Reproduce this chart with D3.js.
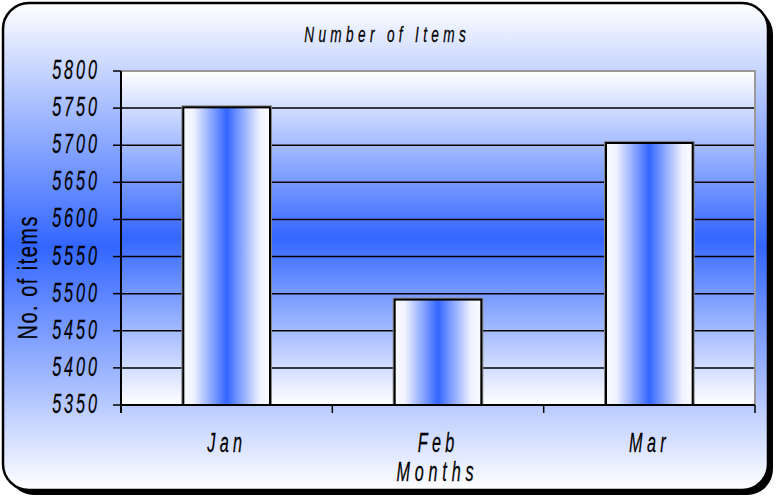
<!DOCTYPE html>
<html>
<head>
<meta charset="utf-8">
<script src="https://cdn.jsdelivr.net/npm/d3@7"></script>
<style>
  html, body { margin: 0; padding: 0; background: #ffffff; }
  svg { display: block; }
  text { font-family: 'Liberation Sans', Arial, sans-serif; fill: #000; stroke: #000; stroke-width: 0.25; }
</style>
</head>
<body>
<svg id="chart" width="777" height="500"></svg>
<script>
// Monthly item counts
const months = ["Jan", "Feb", "Mar"];
const items = [5751, 5492, 5703];
const yTicks = [5350, 5400, 5450, 5500, 5550, 5600, 5650, 5700, 5750, 5800];
const titleText = "Number of Items";
const xTitle = "Months";
const yTitle = "No. of items";

const svg = d3.select("#chart");
const plot = { left: 121, right: 755, top: 71, bottom: 405 };

const defs = svg.append("defs");

// vertical white-blue-white wash used for the panel and the plot area
function vWash(id) {
  const g = defs.append("linearGradient").attr("id", id)
    .attr("x1", 0).attr("y1", 0).attr("x2", 0).attr("y2", 1);
  g.append("stop").attr("offset", "0").attr("stop-color", "#ffffff");
  g.append("stop").attr("offset", "0.5").attr("stop-color", "#3366ff");
  g.append("stop").attr("offset", "1").attr("stop-color", "#ffffff");
}
vWash("panelWash");
vWash("plotWash");

// horizontal white-blue-white shading for each bar
const barGrad = defs.append("linearGradient").attr("id", "barWash")
  .attr("x1", 0).attr("y1", 0).attr("x2", 1).attr("y2", 0);
[[0, "#fbfbff"], [0.12, "#f0f2ff"], [0.5, "#3366ff"], [0.88, "#f0f2ff"], [1, "#fbfbff"]]
  .forEach(([o, c]) => barGrad.append("stop").attr("offset", o).attr("stop-color", c));

// condensed lettering: glyphs squeezed horizontally, letter-spaced
// (sx = horizontal squeeze, ls = letter spacing in unsqueezed units)
function label(parent, str, x, y, o) {
  const sx = o.sx, ls = o.ls || 0;
  // trailing letter spacing shifts anchored text; compensate for it
  const shift = o.anchor === "end" ? ls * sx : o.anchor === "middle" ? ls * sx / 2 : 0;
  const rot = o.rotate ? ` rotate(${o.rotate})` : "";
  const t = parent.append("text")
    .attr("transform", o.rotate
      ? `translate(${x},${y})${rot} translate(${shift},0) scale(${sx},1)`
      : `translate(${x + shift},${y}) scale(${sx},1)`)
    .attr("text-anchor", o.anchor || "start")
    .attr("font-size", o.size)
    .attr("letter-spacing", ls)
    .text(str);
  if (o.italic) t.attr("font-style", "italic");
  return t;
}

// panel: drop shadow, then rounded frame
const panel = { x: 3, y: 3, w: 765, h: 487, r: 26 };
svg.append("rect")
  .attr("x", panel.x + 5).attr("y", panel.y + 5)
  .attr("width", panel.w).attr("height", panel.h)
  .attr("rx", panel.r).attr("fill", "#000");
svg.append("rect")
  .attr("x", panel.x).attr("y", panel.y)
  .attr("width", panel.w).attr("height", panel.h)
  .attr("rx", panel.r)
  .attr("fill", "url(#panelWash)")
  .attr("stroke", "#000").attr("stroke-width", 2.5);

// scales
const x = d3.scaleBand().domain(months).range([plot.left, plot.right]);
const y = d3.scaleLinear().domain([5350, 5800]).range([plot.bottom, plot.top]);

// plot area background
svg.append("rect")
  .attr("x", plot.left).attr("y", plot.top)
  .attr("width", plot.right - plot.left).attr("height", plot.bottom - plot.top)
  .attr("fill", "url(#plotWash)");

// grey frame on top and right
svg.append("path")
  .attr("d", `M${plot.left},${y(5800)}H${plot.right}V${plot.bottom}`)
  .attr("fill", "none").attr("stroke", "#999").attr("stroke-width", 2);

// horizontal gridlines
svg.append("g").selectAll("line")
  .data(yTicks.filter(t => t > 5350 && t < 5800))
  .join("line")
  .attr("x1", plot.left).attr("x2", plot.right - 1)
  .attr("y1", d => y(d)).attr("y2", d => y(d))
  .attr("stroke", "#000").attr("stroke-width", 1.5);

// bars
const barW = x.bandwidth() * 0.41;
const barG = svg.append("g");
barG.selectAll("rect.halo")
  .data(items)
  .join("rect").attr("class", "halo")
  .attr("x", (d, i) => x(months[i]) + (x.bandwidth() - barW) / 2 - 1)
  .attr("y", d => y(d) - 1)
  .attr("width", barW + 2)
  .attr("height", d => y(5350) - y(d) + 1)
  .attr("fill", "none").attr("stroke", "#888").attr("stroke-width", 2);
barG.selectAll("rect.bar")
  .data(items)
  .join("rect").attr("class", "bar")
  .attr("x", (d, i) => x(months[i]) + (x.bandwidth() - barW) / 2)
  .attr("y", d => y(d))
  .attr("width", barW)
  .attr("height", d => y(5350) - y(d))
  .attr("fill", "url(#barWash)")
  .attr("stroke", "#000").attr("stroke-width", 2);

// y axis line, ticks and labels
svg.append("line")
  .attr("x1", plot.left).attr("x2", plot.left)
  .attr("y1", plot.top).attr("y2", plot.bottom + 8)
  .attr("stroke", "#000").attr("stroke-width", 2);
const yAx = svg.append("g");
yAx.selectAll("line")
  .data(yTicks).join("line")
  .attr("x1", plot.left - 8).attr("x2", plot.left)
  .attr("y1", d => y(d)).attr("y2", d => y(d))
  .attr("stroke", "#000").attr("stroke-width", 1.5);
yTicks.forEach(t => label(yAx, t, 97, y(t) + 8,
  { size: 28, sx: 0.58, ls: 5, anchor: "end", italic: true }));

// x axis line, boundary ticks and labels
svg.append("line")
  .attr("x1", plot.left).attr("x2", plot.right)
  .attr("y1", plot.bottom).attr("y2", plot.bottom)
  .attr("stroke", "#000").attr("stroke-width", 2);
const xEdges = months.map(m => x(m)).concat([plot.right]);
const xAx = svg.append("g");
xAx.selectAll("line")
  .data(xEdges).join("line")
  .attr("x1", d => d).attr("x2", d => d)
  .attr("y1", plot.bottom).attr("y2", plot.bottom + 8)
  .attr("stroke", "#000").attr("stroke-width", 1.5);
months.forEach(m => label(xAx, m, x(m) + x.bandwidth() / 2 - 2, 452,
  { size: 28, sx: 0.58, ls: 7.5, anchor: "middle", italic: true }));

// titles
label(svg, titleText, 385, 42, { size: 22, sx: 0.62, ls: 7, anchor: "middle", italic: true });
label(svg, xTitle, 435, 481, { size: 27, sx: 0.6, ls: 8, anchor: "middle", italic: true });
label(svg, yTitle, 37, 278, { size: 27, sx: 0.74, ls: 2, anchor: "middle", rotate: -90 });
</script>
</body>
</html>
